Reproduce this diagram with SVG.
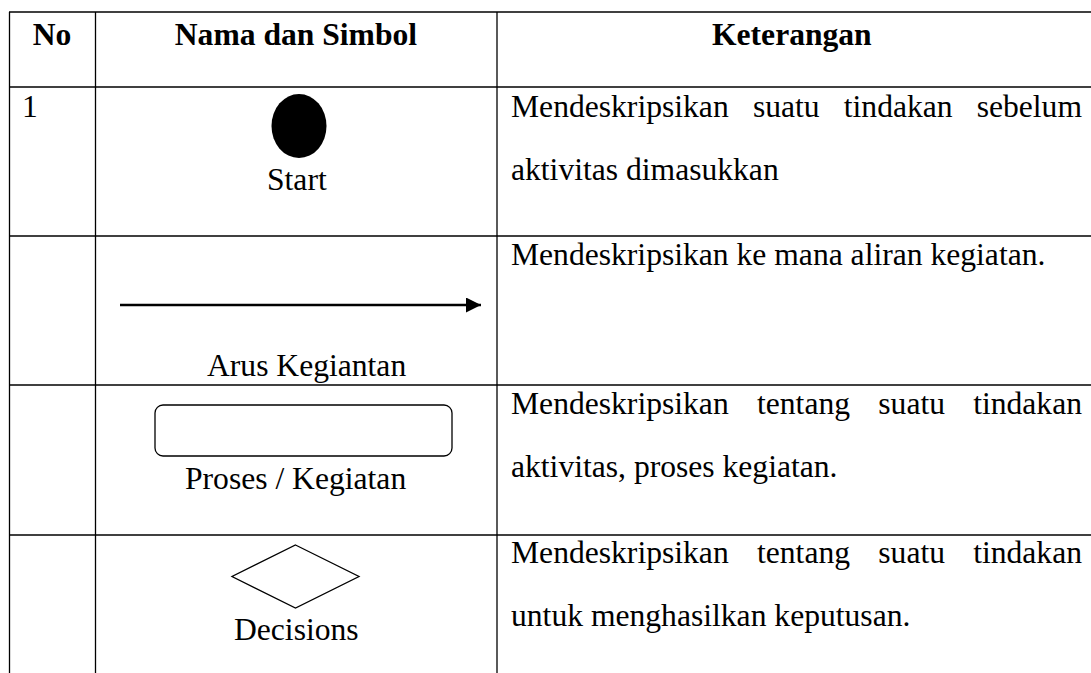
<svg xmlns="http://www.w3.org/2000/svg" width="1091" height="673" viewBox="0 0 1091 673">
  <style>
    .grid { stroke: #000; stroke-width: 1.3; fill: none; }
    .t { font-family: 'Liberation Serif', 'Times New Roman', Times, serif; font-size: 31px; fill: #000; }
    .b { font-weight: bold; }
    .shape { stroke: #000; stroke-width: 1.3; fill: #fff; }
  </style>
  <defs>
    <marker id="arrowhead" markerUnits="userSpaceOnUse" markerWidth="16" markerHeight="16" refX="15" refY="7.5" orient="auto">
      <path d="M0,0 L15,7.5 L0,15 Z" fill="#000"/>
    </marker>
  </defs>

  <rect width="1091" height="673" fill="#fff"/>

  <!-- table rules -->
  <g id="table" class="grid">
    <line x1="9" y1="12" x2="1091" y2="12"/>
    <line x1="9" y1="87" x2="1091" y2="87"/>
    <line x1="9" y1="236" x2="1091" y2="236"/>
    <line x1="9" y1="385" x2="1091" y2="385"/>
    <line x1="9" y1="535" x2="1091" y2="535"/>
    <line x1="9.5" y1="12" x2="9.5" y2="673"/>
    <line x1="95.5" y1="12" x2="95.5" y2="673"/>
    <line x1="497" y1="12" x2="497" y2="673"/>
  </g>

  <!-- header row -->
  <g id="header">
    <text class="t b" x="32.7" y="45" textLength="38.6" lengthAdjust="spacingAndGlyphs">No</text>
    <text class="t b" x="174.8" y="45" textLength="242.3" lengthAdjust="spacingAndGlyphs">Nama dan Simbol</text>
    <text class="t b" x="712" y="45" textLength="159.7" lengthAdjust="spacingAndGlyphs">Keterangan</text>
  </g>

  <!-- row 1: start -->
  <g id="start-node">
    <text class="t" x="22" y="116.5" textLength="15.8" lengthAdjust="spacingAndGlyphs">1</text>
    <ellipse cx="299" cy="126" rx="27.5" ry="32" fill="#000"/>
    <text class="t" x="267" y="190" textLength="59.7" lengthAdjust="spacingAndGlyphs">Start</text>
    <text class="t" x="511" y="116.5" textLength="217.7" lengthAdjust="spacingAndGlyphs">Mendeskripsikan</text>
    <text class="t" x="752.9" y="116.5" textLength="66.7" lengthAdjust="spacingAndGlyphs">suatu</text>
    <text class="t" x="843.8" y="116.5" textLength="108.8" lengthAdjust="spacingAndGlyphs">tindakan</text>
    <text class="t" x="976.7" y="116.5" textLength="105.3" lengthAdjust="spacingAndGlyphs">sebelum</text>
    <text class="t" x="511" y="179.5" textLength="267.7" lengthAdjust="spacingAndGlyphs">aktivitas dimasukkan</text>
  </g>

  <!-- row 2: flow -->
  <g id="flow-node">
    <text class="t" x="207" y="376" textLength="199.2" lengthAdjust="spacingAndGlyphs">Arus Kegiantan</text>
    <text class="t" x="511" y="265" textLength="534.4" lengthAdjust="spacingAndGlyphs">Mendeskripsikan ke mana aliran kegiatan.</text>
  </g>

  <!-- row 3: process -->
  <g id="process-node">
    <rect class="shape" x="155" y="405" width="297" height="51" rx="8" ry="8"/>
    <text class="t" x="185" y="489" textLength="221.2" lengthAdjust="spacingAndGlyphs">Proses / Kegiatan</text>
    <text class="t" x="511" y="414" textLength="217.7" lengthAdjust="spacingAndGlyphs">Mendeskripsikan</text>
    <text class="t" x="757" y="414" textLength="93" lengthAdjust="spacingAndGlyphs">tentang</text>
    <text class="t" x="878.3" y="414" textLength="66.7" lengthAdjust="spacingAndGlyphs">suatu</text>
    <text class="t" x="973.2" y="414" textLength="108.8" lengthAdjust="spacingAndGlyphs">tindakan</text>
    <text class="t" x="511" y="477" textLength="326.5" lengthAdjust="spacingAndGlyphs">aktivitas, proses kegiatan.</text>
  </g>

  <!-- row 4: decision -->
  <g id="decision-node">
    <polygon class="shape" points="295.5,545 359,576.5 295.5,608 232,576.5"/>
    <text class="t" x="234" y="640" textLength="124.6" lengthAdjust="spacingAndGlyphs">Decisions</text>
    <text class="t" x="511" y="563" textLength="217.7" lengthAdjust="spacingAndGlyphs">Mendeskripsikan</text>
    <text class="t" x="757" y="563" textLength="93" lengthAdjust="spacingAndGlyphs">tentang</text>
    <text class="t" x="878.3" y="563" textLength="66.7" lengthAdjust="spacingAndGlyphs">suatu</text>
    <text class="t" x="973.2" y="563" textLength="108.8" lengthAdjust="spacingAndGlyphs">tindakan</text>
    <text class="t" x="511" y="626" textLength="399.4" lengthAdjust="spacingAndGlyphs">untuk menghasilkan keputusan.</text>
  </g>

  <!-- connectors -->
  <g id="connectors">
    <line x1="120" y1="305" x2="481" y2="305" stroke="#000" stroke-width="2.6" marker-end="url(#arrowhead)"/>
  </g>
</svg>
